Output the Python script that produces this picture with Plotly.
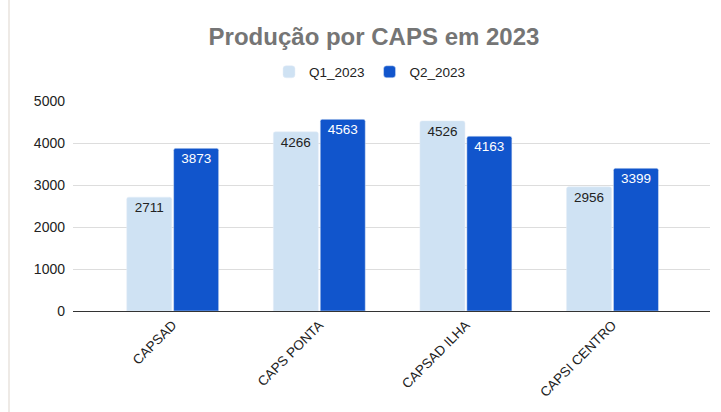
import plotly.graph_objects as go

categories = ["CAPSAD", "CAPS PONTA", "CAPSAD ILHA", "CAPSI CENTRO"]
q1_2023 = [2711, 4266, 4526, 2956]
q2_2023 = [3873, 4563, 4163, 3399]
series_names = ["Q1_2023", "Q2_2023"]
y_ticks = [0, 1000, 2000, 3000, 4000, 5000]

W, H = 721, 412
ML, MR, MT, MB = 73, 11, 101, 101
FONT = "Arial, 'Liberation Sans', sans-serif"

fig = go.Figure()
fig.add_trace(go.Bar(
    x=categories, y=q1_2023, name=series_names[0],
    marker=dict(color="#cfe2f3", cornerradius=2),
    text=[str(v) for v in q1_2023], textposition="inside", insidetextanchor="end",
    textfont=dict(color="#222222", size=13.5, family=FONT),
    textangle=0,
))
fig.add_trace(go.Bar(
    x=categories, y=q2_2023, name=series_names[1],
    marker=dict(color="#1155cc", cornerradius=2),
    text=[str(v) for v in q2_2023], textposition="inside", insidetextanchor="end",
    textfont=dict(color="#ffffff", size=13.5, family=FONT),
    textangle=0,
))

fig.update_layout(
    width=W, height=H,
    margin=dict(l=ML, r=MR, t=MT, b=MB, autoexpand=False),
    paper_bgcolor="white", plot_bgcolor="white",
    barmode="group", bargap=0.36, bargroupgap=0.04,
    font=dict(family=FONT, color="#222222", size=13),
    title=dict(
        text="<b>Produção por CAPS em 2023</b>",
        x=374 / W, xref="container", xanchor="center",
        y=1 - 37 / H, yref="container", yanchor="middle",
        font=dict(size=24, color="#757575", family=FONT),
    ),
    legend=dict(
        orientation="h", x=(370 - ML) / (W - ML - MR), xanchor="center",
        y=1 + 29 / (H - MT - MB), yanchor="middle",
        font=dict(size=13.5, color="#222222", family=FONT),
        itemwidth=30, traceorder="normal",
    ),
    showlegend=True,
    uniformtext=dict(minsize=8, mode="show"),
)
fig.update_xaxes(
    range=[-0.68, 3.665], tickangle=-45, showgrid=False,
    showline=True, linecolor="#333333", linewidth=1,
    tickfont=dict(size=13.5, color="#222222", family=FONT), ticks="",
)
fig.update_yaxes(
    range=[0, 5000], tickvals=y_ticks, showgrid=True, gridcolor="#dddddd",
    gridwidth=1, zeroline=False, showline=False, ticks="",
    tickfont=dict(size=14, color="#222222", family=FONT), ticklabelstandoff=7,
)
fig.add_shape(type="line", xref="paper", yref="paper",
              x0=(9 - ML) / (W - ML - MR), x1=(9 - ML) / (W - ML - MR),
              y0=-MB / (H - MT - MB), y1=1 + MT / (H - MT - MB),
              line=dict(color="#eeeae6", width=2))

fig.write_html(
    "out.html",
    config={"displayModeBar": False},
    post_script="document.body.style.margin='0';document.body.style.overflow='hidden';",
)
